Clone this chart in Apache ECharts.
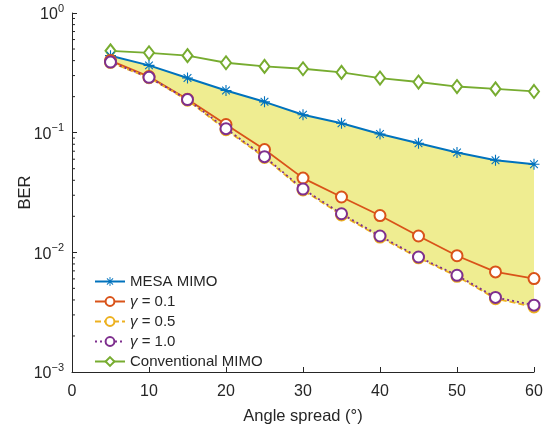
<!DOCTYPE html>
<html>
<head>
<meta charset="utf-8">
<script src="https://cdn.jsdelivr.net/npm/echarts@6/dist/echarts.min.js"></script>
<style>
  html, body { margin: 0; padding: 0; background: #fff; }
  #chart { width: 546px; height: 430px; }
</style>
</head>
<body>
<div id="chart"></div>
<script>
// angle spread (deg)
const angles = [5, 10, 15, 20, 25, 30, 35, 40, 45, 50, 55, 60]

// BER
const mesaMimo = [0.44, 0.365, 0.286, 0.225, 0.181, 0.141, 0.120, 0.0975, 0.0815, 0.0682, 0.0589, 0.0545]
const gamma01 = [0.40, 0.294, 0.19, 0.117, 0.0722, 0.0417, 0.029, 0.0203, 0.0137, 0.00937, 0.00686, 0.00603]
const gamma05 = [0.386, 0.288, 0.187, 0.106, 0.062, 0.0332, 0.0205, 0.0134, 0.0090, 0.0063, 0.0041, 0.0035]
const gamma10 = [0.389, 0.29, 0.189, 0.108, 0.063, 0.0338, 0.021, 0.0137, 0.00914, 0.00643, 0.0042, 0.00362]
const conventional = [0.483, 0.465, 0.44, 0.384, 0.358, 0.342, 0.319, 0.286, 0.265, 0.243, 0.232, 0.221]

const decades = [-3, -2, -1, 0]

const dark = '#262626'
const colors = {
  mesa: '#0072BD',
  g01: '#D95319',
  g05: '#EDB120',
  g10: '#7E2F8E',
  conv: '#77AC30',
  fill: '#efed91'
}

const asterisk = 'path://M9,0h2v20h-2z M0,9h20v2h-20z M3.7,2.3L17.7,16.3L16.3,17.7L2.3,3.7z M16.3,2.3L17.7,3.7L3.7,17.7L2.3,16.3z'

const pairs = ys => angles.map((a, i) => [a, ys[i]])

// lower boundary of the shaded band
const lowest = angles.map((a, i) => Math.min(gamma01[i], gamma05[i], gamma10[i]))

// minor ticks at 2..9 x 10^k
const minorVals = []
decades.slice(0, -1).forEach(k => {
  for (let m = 2; m <= 9; m++) minorVals.push(m * Math.pow(10, k))
})

const sup = { '-3': '−3', '-2': '−2', '-1': '−1', '0': '0' }

const chart = echarts.init(document.getElementById('chart'))

chart.setOption({
  animation: false,
  textStyle: { fontFamily: 'Liberation Sans, Arial, sans-serif' },
  grid: { left: 72, right: 12, top: 13, bottom: 56 },
  xAxis: {
    type: 'value',
    min: 0,
    max: 60,
    interval: 10,
    name: 'Angle spread (°)',
    nameLocation: 'middle',
    nameGap: 36,
    nameMoveOverlap: false,
    nameTextStyle: { fontSize: 16.5, color: dark },
    axisLine: { lineStyle: { color: dark, width: 1 } },
    axisTick: { inside: true, length: 5, lineStyle: { color: dark } },
    axisLabel: { fontSize: 16, color: dark, margin: 12 },
    splitLine: { show: false }
  },
  yAxis: {
    type: 'log',
    logBase: 10,
    min: 0.001,
    max: 1,
    name: 'BER',
    nameLocation: 'middle',
    nameGap: 38,
    nameMoveOverlap: false,
    nameTextStyle: { fontSize: 16.5, color: dark },
    axisLine: { lineStyle: { color: dark, width: 1 } },
    axisTick: { inside: true, length: 5, lineStyle: { color: dark } },
    axisLabel: {
      color: dark,
      margin: 8,
      formatter: v => {
        const k = Math.round(Math.log10(v))
        return '{b|10}{s|' + sup[String(k)] + '}'
      },
      rich: {
        b: { fontSize: 16, color: dark, verticalAlign: 'bottom' },
        s: { fontSize: 11, color: dark, verticalAlign: 'top', padding: [0, 0, 9, 0] }
      }
    },
    splitLine: { show: false }
  },
  legend: {
    orient: 'vertical',
    left: 89,
    top: 268,
    itemGap: 3,
    itemWidth: 30,
    itemHeight: 11,
    textStyle: {
      fontSize: 15,
      color: dark,
      lineHeight: 17,
      rich: { g: { fontSize: 15, fontStyle: 'italic', color: dark, lineHeight: 17 } }
    },
    formatter: name => name.replace('γ', '{g|γ}'),
    data: ['MESA MIMO', 'γ = 0.1', 'γ = 0.5', 'γ = 1.0', 'Conventional MIMO']
  },
  series: [
    {
      type: 'custom',
      name: 'band',
      silent: true,
      z: 1,
      data: [0],
      renderItem: (params, api) => {
        const top = angles.map((a, i) => api.coord([a, mesaMimo[i]]))
        const bot = angles.map((a, i) => api.coord([a, lowest[i]])).reverse()
        return {
          type: 'polygon',
          shape: { points: top.concat(bot) },
          style: { fill: colors.fill }
        }
      }
    },
    {
      type: 'custom',
      name: 'minorTicks',
      silent: true,
      z: 3,
      data: minorVals,
      renderItem: (params, api) => {
        const p = api.coord([0, api.value(0)])
        return {
          type: 'line',
          shape: { x1: p[0], y1: p[1], x2: p[0] + 3, y2: p[1] },
          style: { stroke: dark, lineWidth: 1 }
        }
      },
      encode: { x: 0, y: 0 }
    },
    {
      name: 'Conventional MIMO',
      type: 'line',
      data: pairs(conventional),
      symbol: 'emptyDiamond',
      symbolSize: [10, 13],
      lineStyle: { color: colors.conv, width: 1.8 },
      itemStyle: { color: colors.conv, borderWidth: 1.6 },
      z: 5
    },
    {
      name: 'MESA MIMO',
      type: 'line',
      data: pairs(mesaMimo),
      symbol: asterisk,
      symbolSize: 11,
      lineStyle: { color: colors.mesa, width: 2 },
      itemStyle: { color: colors.mesa },
      z: 5
    },
    {
      name: 'γ = 0.1',
      type: 'line',
      data: pairs(gamma01),
      symbol: 'emptyCircle',
      symbolSize: 11,
      lineStyle: { color: colors.g01, width: 1.8 },
      itemStyle: { color: colors.g01, borderWidth: 1.6 },
      z: 5
    },
    {
      name: 'γ = 0.5',
      type: 'line',
      data: pairs(gamma05),
      symbol: 'emptyCircle',
      symbolSize: 11,
      lineStyle: { color: colors.g05, width: 1.8, type: [6, 3] },
      itemStyle: { color: colors.g05, borderWidth: 1.6 },
      z: 5
    },
    {
      name: 'γ = 1.0',
      type: 'line',
      data: pairs(gamma10),
      symbol: 'emptyCircle',
      symbolSize: 11,
      lineStyle: { color: colors.g10, width: 1.8, type: [2, 3] },
      itemStyle: { color: colors.g10, borderWidth: 2 },
      z: 6
    }
  ]
})
</script>
</body>
</html>
